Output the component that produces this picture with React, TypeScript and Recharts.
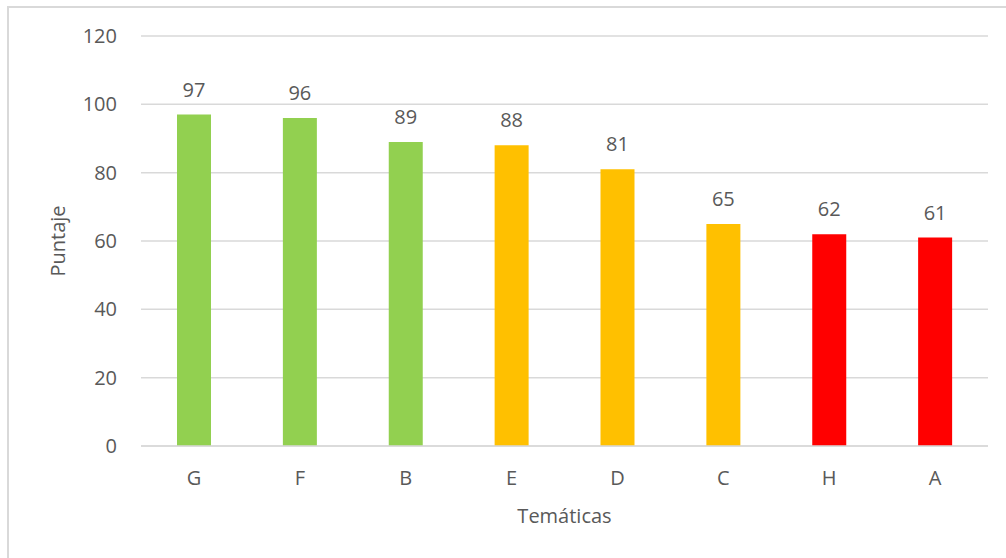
import React from 'react';
import { BarChart, Bar, XAxis, YAxis, CartesianGrid, Cell, LabelList } from 'recharts';

const categories = ['G', 'F', 'B', 'E', 'D', 'C', 'H', 'A'];
const scores = [97, 96, 89, 88, 81, 65, 62, 61];
const levels = ['alto', 'alto', 'alto', 'medio', 'medio', 'medio', 'bajo', 'bajo'];
const yTicks = [0, 20, 40, 60, 80, 100, 120];

const LEVEL_COLORS: Record<string, string> = {
    alto: '#92D050',
    medio: '#FFC000',
    bajo: '#FF0000',
};

const TEXT = '#595959';
const GRID = '#d9d9d9';
const FONT = '"Open Sans", sans-serif';

const data = categories.map((name, i) => ({ name, value: scores[i], level: levels[i] }));

export default function App() {
    return (
        <div style={{ position: 'absolute', left: 0, top: 0, width: 1006, height: 558, background: '#fff', overflow: 'hidden' }}>
            <div
                style={{
                    position: 'absolute',
                    left: 7,
                    top: 6,
                    width: 1010,
                    height: 560,
                    border: `2px solid ${GRID}`,
                    boxSizing: 'border-box',
                }}
            />
            <div style={{ position: 'absolute', left: 0, top: 0 }}>
                <BarChart
                    width={1006}
                    height={558}
                    data={data}
                    margin={{ top: 36, right: 18, bottom: 0, left: 0 }}
                    style={{ fontFamily: FONT }}
                >
                    <CartesianGrid vertical={false} stroke={GRID} strokeWidth={1.5} />
                    <XAxis
                        dataKey="name"
                        height={112}
                        axisLine={{ stroke: GRID, strokeWidth: 1.5 }}
                        tickLine={false}
                        tickMargin={19}
                        tick={{ fill: TEXT, fontSize: 20, fontFamily: FONT }}
                        label={{ value: 'Temáticas', position: 'insideTop', offset: 63, fill: TEXT, fontSize: 20, fontFamily: FONT }}
                    />
                    <YAxis
                        width={141}
                        domain={[0, 120]}
                        ticks={yTicks}
                        axisLine={false}
                        tickLine={false}
                        tickMargin={18}
                        tick={{ fill: TEXT, fontSize: 20, fontFamily: FONT }}
                        label={{ value: 'Puntaje', angle: -90, position: 'insideLeft', offset: 58, fill: TEXT, fontSize: 20, fontFamily: FONT, style: { textAnchor: 'middle' } }}
                    />
                    <Bar dataKey="value" barSize={34} isAnimationActive={false}>
                        {data.map((entry, index) => (
                            <Cell key={`cell-${index}`} fill={LEVEL_COLORS[entry.level]} />
                        ))}
                        <LabelList dataKey="value" position="top" offset={18} fill={TEXT} fontSize={20} fontFamily={FONT} />
                    </Bar>
                </BarChart>
            </div>
        </div>
    );
}
